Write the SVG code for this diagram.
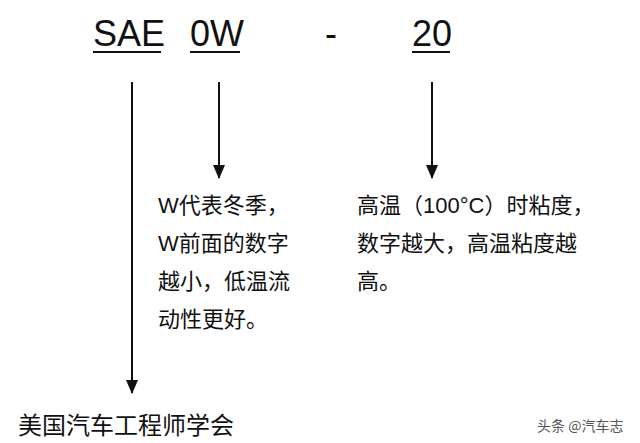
<svg xmlns="http://www.w3.org/2000/svg" width="640" height="443" viewBox="0 0 640 443">
<style>
.t{font-family:"Liberation Sans","Noto Sans CJK SC",sans-serif;fill:#111}
.big{font-size:36px}
.c{font-size:22px}
line{stroke:#111;stroke-width:2}
</style>
<defs><marker id="a" markerWidth="14" markerHeight="12" refX="13" refY="6" orient="auto" markerUnits="userSpaceOnUse" viewBox="0 0 14 12"><path d="M0,0L14,6L0,12z" fill="#111"/></marker></defs>
<rect width="640" height="443" fill="#fff"/>
<g id="sae"><text class="t big" x="93" y="46">SAE</text><line x1="93" y1="52" x2="161" y2="52"/></g>
<g id="ow"><text class="t big" x="190" y="46">0W</text><line x1="190" y1="52" x2="240" y2="52"/></g>
<g id="dash"><text class="t big" x="325" y="46">-</text></g>
<g id="n20"><text class="t big" x="412" y="46">20</text><line x1="412" y1="52" x2="450" y2="52"/></g>
<g id="connectors">
<line x1="132" y1="82" x2="132" y2="393" marker-end="url(#a)"/>
<line x1="219" y1="82" x2="219" y2="178" marker-end="url(#a)"/>
<line x1="432" y1="82" x2="432" y2="178" marker-end="url(#a)"/>
</g>
<g id="winter"><text class="t c" x="158" y="213">W代表冬季，</text><text class="t c" x="158" y="251">W前面的数字</text><text class="t c" x="158" y="289">越小，低温流</text><text class="t c" x="158" y="327">动性更好。</text></g>
<g id="hot"><text class="t c" x="357" y="213">高温（100°C）时粘度，</text><text class="t c" x="357" y="251">数字越大，高温粘度越</text><text class="t c" x="357" y="289">高。</text></g>
<g id="society"><text class="t" style="font-size:24px" x="18" y="434">美国汽车工程师学会</text></g>
<text x="537" y="431" style="font-family:'Noto Sans CJK SC',sans-serif;font-size:14px;fill:#555">头条 @汽车志</text>
</svg>
